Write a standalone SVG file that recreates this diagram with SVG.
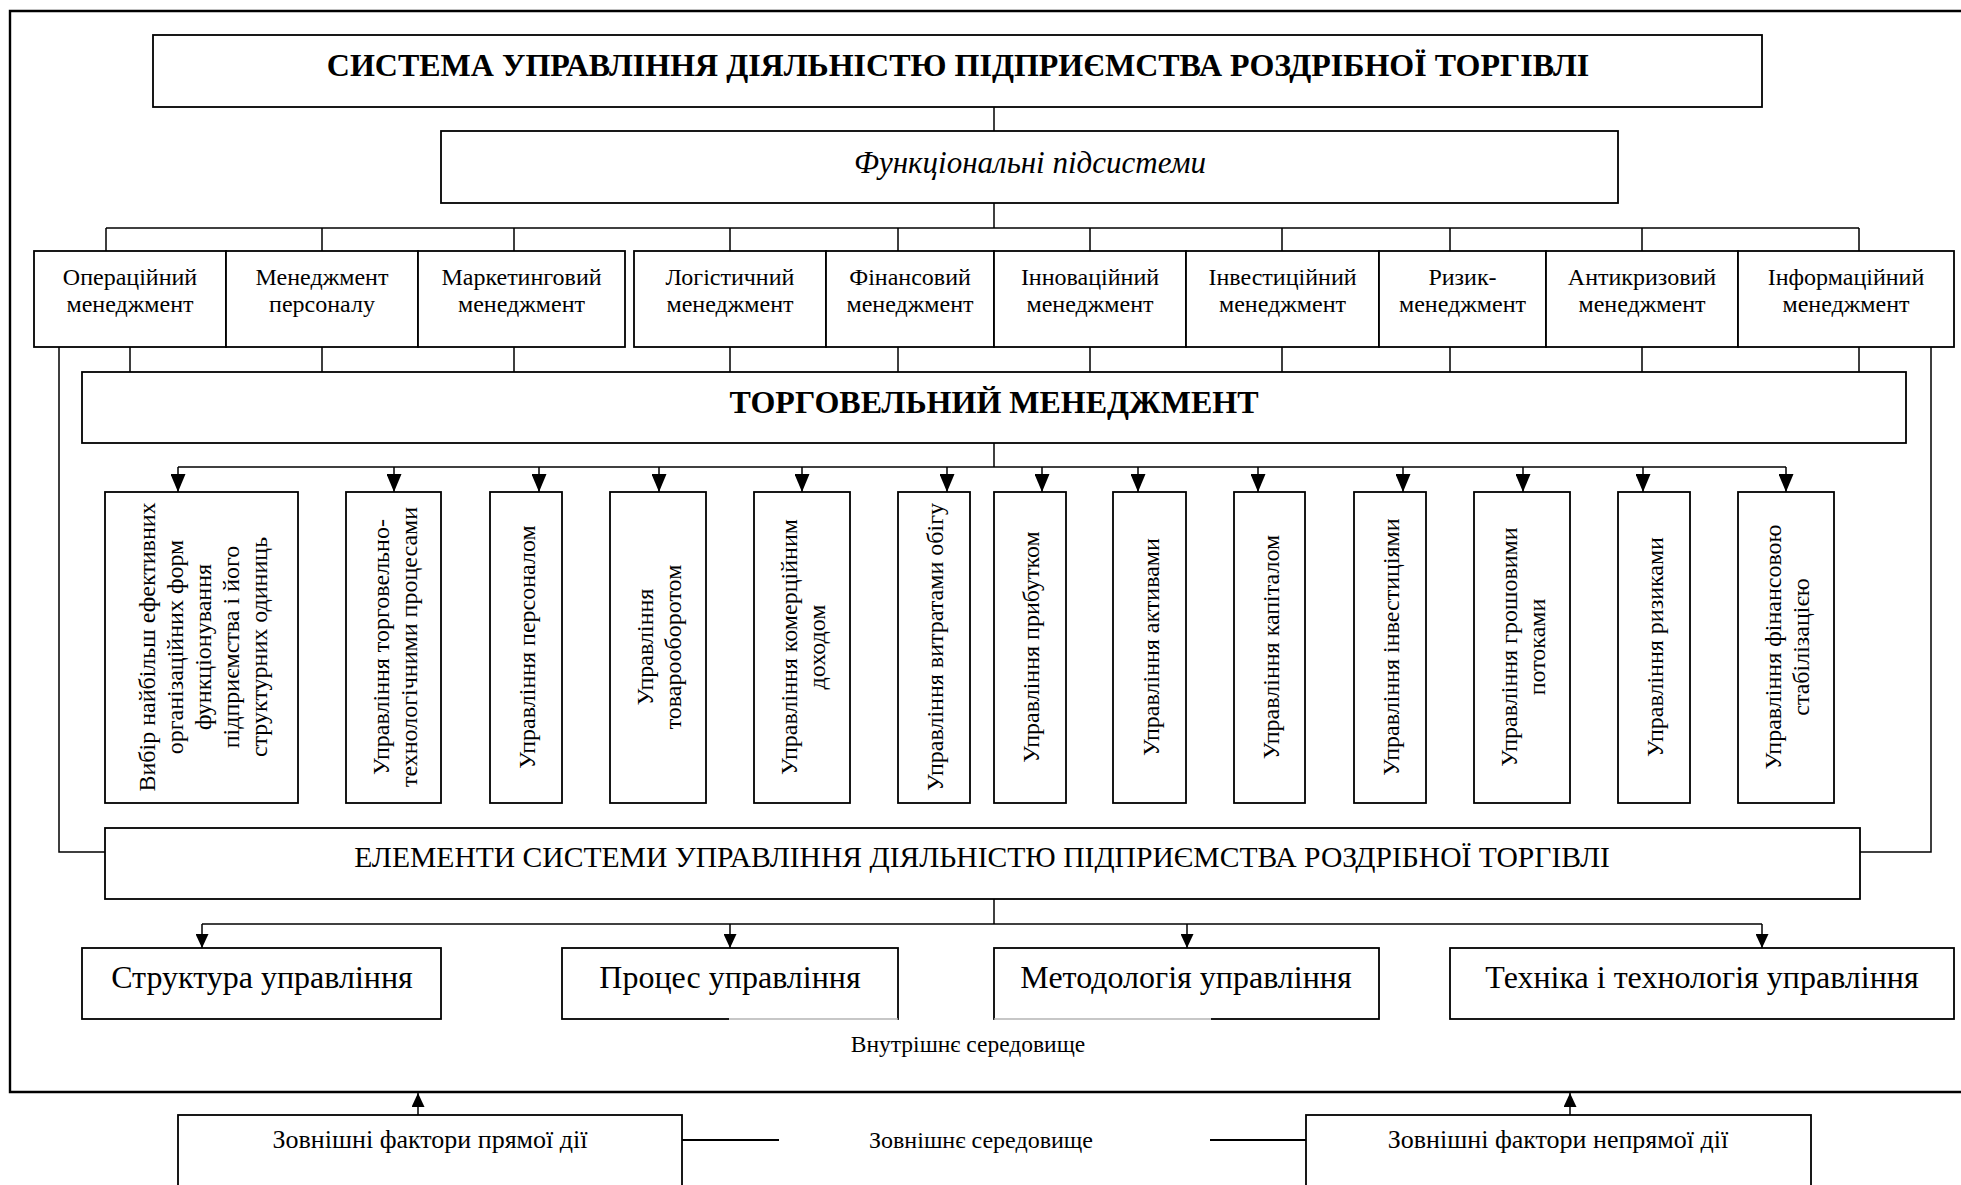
<svg xmlns="http://www.w3.org/2000/svg" width="1961" height="1185" viewBox="0 0 1961 1185">
<style>
  .box { fill: #fff; stroke: #000; stroke-width: 1.8; }
  .ln { fill: none; stroke: #000; stroke-width: 1.5; }
  .frame { fill: none; stroke: #000; stroke-width: 2.4; }
  text { font-family: "Liberation Serif", "Times New Roman", serif; fill: #000; }
  .t24 { font-size: 24px; text-anchor: middle; }
  .title { font-size: 32px; font-weight: bold; text-anchor: middle; }
  .sub { font-size: 31px; font-style: italic; text-anchor: middle; }
  .tm { font-size: 32px; font-weight: bold; text-anchor: middle; }
  .el { font-size: 29.6px; text-anchor: middle; }
  .big { font-size: 32px; text-anchor: middle; }
  .small { font-size: 23.5px; text-anchor: middle; }
  .ext { font-size: 26px; text-anchor: middle; }
</style>
<defs>
  <marker id="arr" markerUnits="userSpaceOnUse" markerWidth="18" markerHeight="15" viewBox="0 0 18 15" refX="18" refY="7.5" orient="auto">
    <path d="M0,0 L18,7.5 L0,15 z" fill="#000"/>
  </marker>
  <marker id="arrS" markerUnits="userSpaceOnUse" markerWidth="14" markerHeight="13" viewBox="0 0 14 13" refX="14" refY="6.5" orient="auto">
    <path d="M0,0 L14,6.5 L0,13 z" fill="#000"/>
  </marker>
</defs>
<rect x="0" y="0" width="1961" height="1185" fill="#fff"/>

<path class="frame" d="M1962,11 H10 V1092 H1962"/>

<g id="connectors">
  <line class="ln" x1="994" y1="107" x2="994" y2="131"/>
  <line class="ln" x1="994" y1="203" x2="994" y2="228"/>
  <line class="ln" x1="106" y1="228" x2="1859" y2="228"/>
  <path class="ln" d="M106,228 V251 M322,228 V251 M514,228 V251 M730,228 V251 M898,228 V251 M1090,228 V251 M1282,228 V251 M1450,228 V251 M1642,228 V251 M1859,228 V251"/>
  <path class="ln" d="M130,347 V372 M322,347 V372 M514,347 V372 M730,347 V372 M898,347 V372 M1090,347 V372 M1282,347 V372 M1450,347 V372 M1642,347 V372 M1859,347 V372"/>
  <path class="ln" d="M59,347 V852 H105"/>
  <path class="ln" d="M1931,347 V852 H1860"/>
  <line class="ln" x1="994" y1="443" x2="994" y2="467"/>
  <line class="ln" x1="178" y1="467" x2="1786" y2="467"/>
  <line class="ln" x1="178" y1="467" x2="178" y2="492" marker-end="url(#arr)"/>
  <line class="ln" x1="394" y1="467" x2="394" y2="492" marker-end="url(#arr)"/>
  <line class="ln" x1="539" y1="467" x2="539" y2="492" marker-end="url(#arr)"/>
  <line class="ln" x1="659" y1="467" x2="659" y2="492" marker-end="url(#arr)"/>
  <line class="ln" x1="802" y1="467" x2="802" y2="492" marker-end="url(#arr)"/>
  <line class="ln" x1="947" y1="467" x2="947" y2="492" marker-end="url(#arr)"/>
  <line class="ln" x1="1042" y1="467" x2="1042" y2="492" marker-end="url(#arr)"/>
  <line class="ln" x1="1138" y1="467" x2="1138" y2="492" marker-end="url(#arr)"/>
  <line class="ln" x1="1258" y1="467" x2="1258" y2="492" marker-end="url(#arr)"/>
  <line class="ln" x1="1403" y1="467" x2="1403" y2="492" marker-end="url(#arr)"/>
  <line class="ln" x1="1523" y1="467" x2="1523" y2="492" marker-end="url(#arr)"/>
  <line class="ln" x1="1643" y1="467" x2="1643" y2="492" marker-end="url(#arr)"/>
  <line class="ln" x1="1786" y1="467" x2="1786" y2="492" marker-end="url(#arr)"/>
  <line class="ln" x1="994" y1="899" x2="994" y2="924"/>
  <line class="ln" x1="202" y1="924" x2="1762" y2="924"/>
  <line class="ln" x1="202" y1="924" x2="202" y2="948" marker-end="url(#arrS)"/>
  <line class="ln" x1="730" y1="924" x2="730" y2="948" marker-end="url(#arrS)"/>
  <line class="ln" x1="1187" y1="924" x2="1187" y2="948" marker-end="url(#arrS)"/>
  <line class="ln" x1="1762" y1="924" x2="1762" y2="948" marker-end="url(#arrS)"/>
  <line class="ln" x1="418" y1="1115" x2="418" y2="1093" marker-end="url(#arrS)"/>
  <line class="ln" x1="1570" y1="1115" x2="1570" y2="1093" marker-end="url(#arrS)"/>
  <line class="ln" x1="682" y1="1140" x2="779" y2="1140" style="stroke-width:2"/>
  <line class="ln" x1="1210" y1="1140" x2="1306" y2="1140" style="stroke-width:2"/>
</g>

<g id="title">
  <rect class="box" x="153" y="35" width="1609" height="72"/>
  <text class="title" x="958" y="76">СИСТЕМА УПРАВЛІННЯ ДІЯЛЬНІСТЮ ПІДПРИЄМСТВА РОЗДРІБНОЇ ТОРГІВЛІ</text>
</g>
<g id="functional">
  <rect class="box" x="441" y="131" width="1177" height="72"/>
  <text class="sub" x="1030" y="173">Функціональні підсистеми</text>
</g>

<g id="sub-operational"><rect class="box" x="34" y="251" width="192" height="96"/><text class="t24" x="130" y="285">Операційний</text><text class="t24" x="130" y="312">менеджмент</text></g>
<g id="sub-personnel"><rect class="box" x="226" y="251" width="192" height="96"/><text class="t24" x="322" y="285">Менеджмент</text><text class="t24" x="322" y="312">персоналу</text></g>
<g id="sub-marketing"><rect class="box" x="418" y="251" width="207" height="96"/><text class="t24" x="521.5" y="285">Маркетинговий</text><text class="t24" x="521.5" y="312">менеджмент</text></g>
<g id="sub-logistics"><rect class="box" x="634" y="251" width="192" height="96"/><text class="t24" x="730" y="285">Логістичний</text><text class="t24" x="730" y="312">менеджмент</text></g>
<g id="sub-finance"><rect class="box" x="826" y="251" width="168" height="96"/><text class="t24" x="910" y="285">Фінансовий</text><text class="t24" x="910" y="312">менеджмент</text></g>
<g id="sub-innovation"><rect class="box" x="994" y="251" width="192" height="96"/><text class="t24" x="1090" y="285">Інноваційний</text><text class="t24" x="1090" y="312">менеджмент</text></g>
<g id="sub-investment"><rect class="box" x="1186" y="251" width="193" height="96"/><text class="t24" x="1282.5" y="285">Інвестиційний</text><text class="t24" x="1282.5" y="312">менеджмент</text></g>
<g id="sub-risk"><rect class="box" x="1379" y="251" width="167" height="96"/><text class="t24" x="1462.5" y="285">Ризик-</text><text class="t24" x="1462.5" y="312">менеджмент</text></g>
<g id="sub-anticrisis"><rect class="box" x="1546" y="251" width="192" height="96"/><text class="t24" x="1642" y="285">Антикризовий</text><text class="t24" x="1642" y="312">менеджмент</text></g>
<g id="sub-information"><rect class="box" x="1738" y="251" width="216" height="96"/><text class="t24" x="1846" y="285">Інформаційний</text><text class="t24" x="1846" y="312">менеджмент</text></g>

<g id="trade-management">
  <rect class="box" x="82" y="372" width="1824" height="71"/>
  <text class="tm" x="994" y="413">ТОРГОВЕЛЬНИЙ МЕНЕДЖМЕНТ</text>
</g>

<g id="v1"><rect class="box" x="105" y="492" width="193" height="311"/>
  <text class="t24" transform="translate(201.5,647) rotate(-90)"><tspan x="0" y="-47">Вибір найбільш ефективних</tspan><tspan x="0" y="-19">організаційних форм</tspan><tspan x="0" y="9">функціонування</tspan><tspan x="0" y="37">підприємства і його</tspan><tspan x="0" y="65">структурних одиниць</tspan></text></g>
<g id="v2"><rect class="box" x="346" y="492" width="95" height="311"/>
  <text class="t24" transform="translate(393.5,647) rotate(-90)"><tspan x="0" y="-5">Управління торговельно-</tspan><tspan x="0" y="23">технологічними процесами</tspan></text></g>
<g id="v3"><rect class="box" x="490" y="492" width="72" height="311"/>
  <text class="t24" transform="translate(526,647) rotate(-90)"><tspan x="0" y="9">Управління персоналом</tspan></text></g>
<g id="v4"><rect class="box" x="610" y="492" width="96" height="311"/>
  <text class="t24" transform="translate(658,647) rotate(-90)"><tspan x="0" y="-5">Управління</tspan><tspan x="0" y="23">товарооборотом</tspan></text></g>
<g id="v5"><rect class="box" x="754" y="492" width="96" height="311"/>
  <text class="t24" transform="translate(802,647) rotate(-90)"><tspan x="0" y="-5">Управління комерційним</tspan><tspan x="0" y="23">доходом</tspan></text></g>
<g id="v6"><rect class="box" x="898" y="492" width="72" height="311"/>
  <text class="t24" transform="translate(934,647) rotate(-90)"><tspan x="0" y="9">Управління витратами обігу</tspan></text></g>
<g id="v7"><rect class="box" x="994" y="492" width="72" height="311"/>
  <text class="t24" transform="translate(1030,647) rotate(-90)"><tspan x="0" y="9">Управління прибутком</tspan></text></g>
<g id="v8"><rect class="box" x="1113" y="492" width="73" height="311"/>
  <text class="t24" transform="translate(1149.5,647) rotate(-90)"><tspan x="0" y="9">Управління активами</tspan></text></g>
<g id="v9"><rect class="box" x="1234" y="492" width="71" height="311"/>
  <text class="t24" transform="translate(1269.5,647) rotate(-90)"><tspan x="0" y="9">Управління капіталом</tspan></text></g>
<g id="v10"><rect class="box" x="1354" y="492" width="72" height="311"/>
  <text class="t24" transform="translate(1390,647) rotate(-90)"><tspan x="0" y="9">Управління інвестиціями</tspan></text></g>
<g id="v11"><rect class="box" x="1474" y="492" width="96" height="311"/>
  <text class="t24" transform="translate(1522,647) rotate(-90)"><tspan x="0" y="-5">Управління грошовими</tspan><tspan x="0" y="23">потоками</tspan></text></g>
<g id="v12"><rect class="box" x="1618" y="492" width="72" height="311"/>
  <text class="t24" transform="translate(1654,647) rotate(-90)"><tspan x="0" y="9">Управління ризиками</tspan></text></g>
<g id="v13"><rect class="box" x="1738" y="492" width="96" height="311"/>
  <text class="t24" transform="translate(1786,647) rotate(-90)"><tspan x="0" y="-5">Управління фінансовою</tspan><tspan x="0" y="23">стабілізацією</tspan></text></g>

<g id="elements">
  <rect class="box" x="105" y="828" width="1755" height="71"/>
  <text class="el" x="982" y="867">ЕЛЕМЕНТИ СИСТЕМИ УПРАВЛІННЯ ДІЯЛЬНІСТЮ ПІДПРИЄМСТВА РОЗДРІБНОЇ ТОРГІВЛІ</text>
</g>

<g id="structure"><rect class="box" x="82" y="948" width="359" height="71"/><text class="big" x="262" y="988">Структура управління</text></g>
<g id="process"><rect class="box" x="562" y="948" width="336" height="71"/><text class="big" x="730" y="988">Процес управління</text></g>
<g id="methodology"><rect class="box" x="994" y="948" width="385" height="71"/><text class="big" x="1186" y="988">Методологія управління</text></g>
<g id="technique"><rect class="box" x="1450" y="948" width="504" height="71"/><text class="big" x="1702" y="988">Техніка і технологія управління</text></g>

<g id="internal-env">
  <line x1="729" y1="1019" x2="897" y2="1019" stroke="#fff" stroke-width="3"/>
  <line x1="729" y1="1019" x2="898" y2="1019" stroke="#b4b4b4" stroke-width="1.5"/>
  <line x1="995" y1="1019" x2="1211" y2="1019" stroke="#fff" stroke-width="3"/>
  <line x1="994" y1="1019" x2="1211" y2="1019" stroke="#b4b4b4" stroke-width="1.5"/>
  <text class="small" x="968" y="1052">Внутрішнє середовище</text>
</g>

<g id="external-direct"><rect class="box" x="178" y="1115" width="504" height="100"/><text class="ext" x="430" y="1148">Зовнішні фактори прямої дії</text></g>
<g id="external-env"><text class="small" x="981" y="1148" style="font-size:24px">Зовнішнє середовище</text></g>
<g id="external-indirect"><rect class="box" x="1306" y="1115" width="505" height="100"/><text class="ext" x="1558" y="1148">Зовнішні фактори непрямої дії</text></g>
</svg>
